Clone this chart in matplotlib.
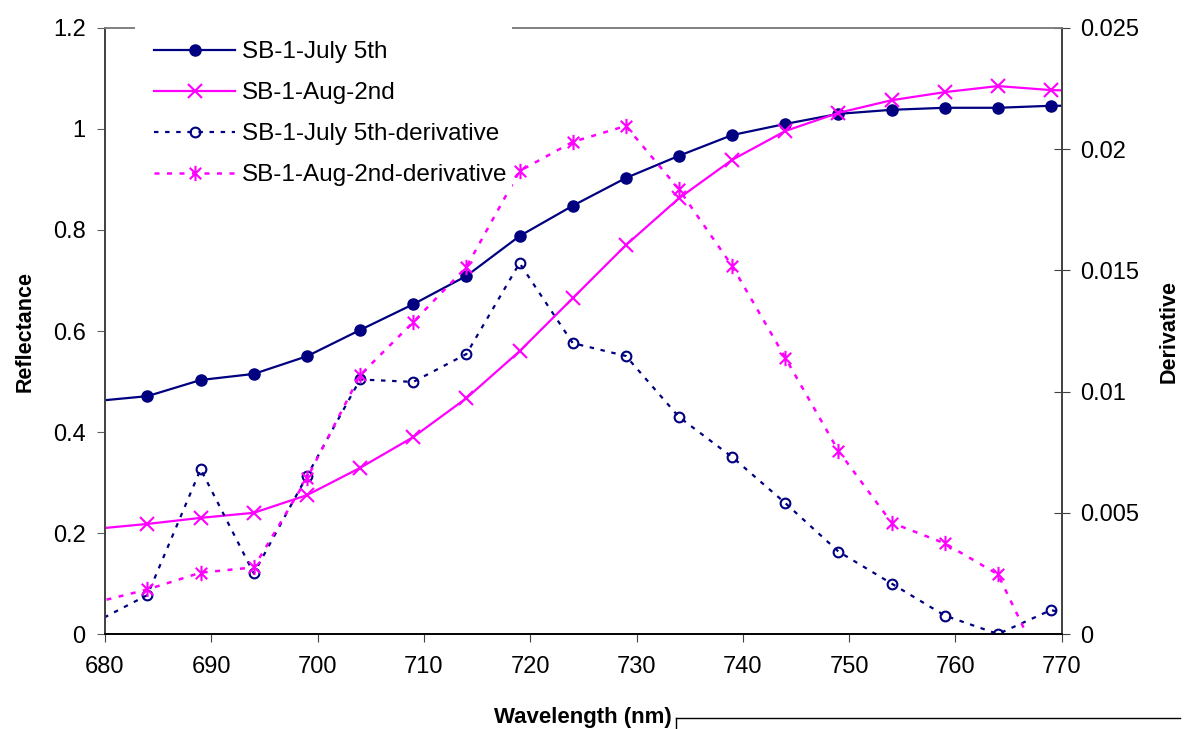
import numpy as np
import matplotlib
matplotlib.use("Agg")
import matplotlib.pyplot as plt
from matplotlib.path import Path
from matplotlib.lines import Line2D
from matplotlib.patches import Rectangle

plt.rcParams["font.family"] = ["Liberation Sans", "DejaVu Sans"]

# wavelength (nm); first and last points only carry the lines to the edges
wavelength = [679, 684, 689, 694, 699, 704, 709, 714, 719, 724,
              729, 734, 739, 744, 749, 754, 759, 764, 769, 774]

july = [0.461, 0.471, 0.503, 0.515, 0.550, 0.602, 0.653, 0.709, 0.788, 0.848,
        0.903, 0.947, 0.988, 1.010, 1.030, 1.038, 1.042, 1.042, 1.046, 1.046]
aug = [0.208, 0.218, 0.230, 0.240, 0.275, 0.329, 0.390, 0.467, 0.560, 0.665,
       0.770, 0.863, 0.939, 0.996, 1.032, 1.057, 1.073, 1.085, 1.077, 1.075]

july_deriv = [0.00047, 0.00161, 0.0068, 0.0025, 0.00652, 0.0105, 0.0104, 0.01155,
              0.0153, 0.0120, 0.01147, 0.00895, 0.0073, 0.0054, 0.0034, 0.00208,
              0.00076, 0.0, 0.00099, 0.0004]
aug_deriv = [0.00129, 0.00184, 0.00253, 0.00275, 0.00642, 0.01068, 0.01287, 0.01514,
             0.0191, 0.0203, 0.02096, 0.01834, 0.01518, 0.01139, 0.00755, 0.00459,
             0.00374, 0.00246, -0.0021, np.nan]

labels = ["SB-1-July 5th", "SB-1-Aug-2nd",
          "SB-1-July 5th-derivative", "SB-1-Aug-2nd-derivative"]

navy = "#000080"
magenta = "#FF00FF"

# excel style asterisk: an x with a vertical bar
star = Path([(0, -1), (0, 1), (-0.75, -0.75), (0.75, 0.75), (-0.75, 0.75), (0.75, -0.75)],
            [Path.MOVETO, Path.LINETO, Path.MOVETO, Path.LINETO, Path.MOVETO, Path.LINETO])

fig = plt.figure(figsize=(11.97, 7.29), dpi=100)
ax = fig.add_axes([0.0877, 0.1303, 0.7993, 0.8313])
ax2 = ax.twinx()

mk = slice(1, -1)
l1, = ax.plot(wavelength, july, color=navy, lw=1.6, marker="o", ms=8,
              markevery=mk, label=labels[0])
l2, = ax.plot(wavelength, aug, color=magenta, lw=1.6, marker="x", ms=10, mew=1.5,
              markevery=mk, label=labels[1])
l3, = ax2.plot(wavelength, july_deriv, color=navy, lw=1.6, ls=(0, (2, 3)),
               marker="o", ms=7, mfc="none", mew=1.5, markevery=mk, label=labels[2])
l4, = ax2.plot(wavelength, aug_deriv, color=magenta, lw=1.8, ls=(0, (2, 3)),
               marker=star, ms=11, mew=1.5, markevery=mk, label=labels[3])

ax.set_xlim(680, 770)
ax.set_ylim(0, 1.2)
ax2.set_ylim(0, 0.025)
ax.set_xticks(range(680, 771, 10))
ax.set_yticks([0, 0.2, 0.4, 0.6, 0.8, 1, 1.2])
ax.set_yticklabels(["0", "0.2", "0.4", "0.6", "0.8", "1", "1.2"])
ax2.set_yticks([0, 0.005, 0.01, 0.015, 0.02, 0.025])
ax2.set_yticklabels(["0", "0.005", "0.01", "0.015", "0.02", "0.025"])

ax.tick_params(axis="x", direction="out", length=6, pad=10, labelsize=17, color="#404040")
ax.tick_params(axis="y", direction="out", length=6, pad=8, labelsize=17, color="#606060")
ax2.tick_params(axis="y", direction="inout", length=12, pad=7, labelsize=17, color="#404040")

for a in (ax, ax2):
    a.spines["top"].set_color("#808080")
    a.spines["left"].set_color("#404040")
    a.spines["right"].set_color("#404040")
    a.spines["bottom"].set_color("black")
    for s in a.spines.values():
        s.set_linewidth(1.2)

ax.set_xlabel("Wavelength (nm)", fontsize=16, fontweight="bold", labelpad=21)
ax.set_ylabel("Reflectance", fontsize=15.5, fontweight="bold", labelpad=12)
ax2.set_ylabel("Derivative", fontsize=15.5, fontweight="bold", labelpad=14)

# white legend area that hides part of the top border, like the original
ax2.add_patch(Rectangle((0.031, 0.735), 0.394, 0.27, transform=ax2.transAxes,
                        facecolor="white", edgecolor="none", zorder=4, clip_on=False))

leg = ax2.legend(handles=[l1, l2, l3, l4], loc="upper left",
                 bbox_to_anchor=(0.02, 1.028), fontsize=17.5, frameon=False,
                 handlelength=3.3, labelspacing=0.78, borderpad=0.75,
                 handletextpad=0.3)
leg.set_zorder(10)

# stray rule under the plot, as in the original
fig.add_artist(Line2D([676 / 1197, 1180 / 1197], [1 - 718 / 729, 1 - 718 / 729],
                      color="black", lw=1))
fig.add_artist(Line2D([676 / 1197, 676 / 1197], [1 - 718 / 729, 0],
                      color="black", lw=1))

fig.savefig("out.png", dpi=100)
